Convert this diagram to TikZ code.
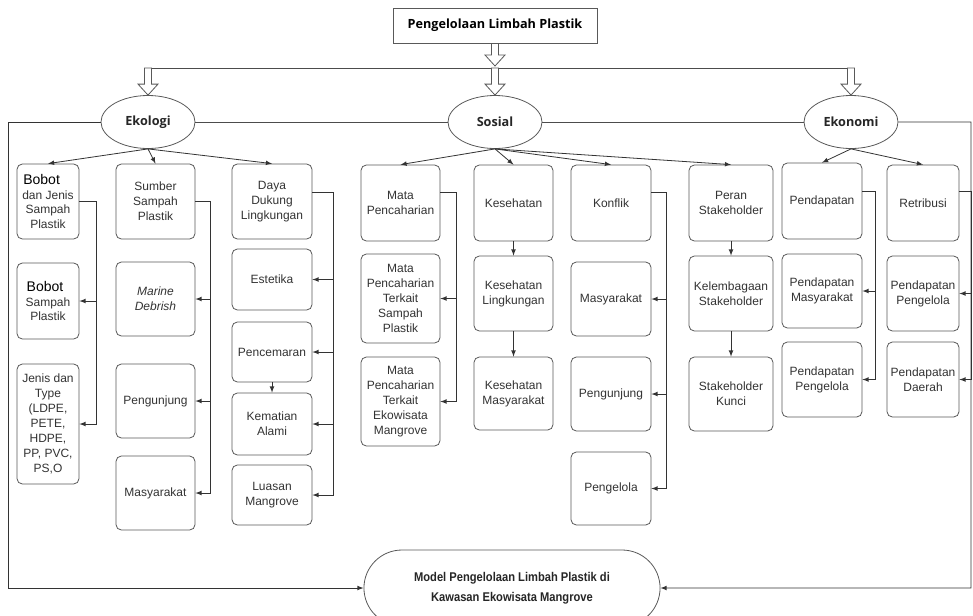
\documentclass[tikz,border=0pt]{standalone}
\usepackage{fontspec}
\setmainfont{Liberation Sans}
\newfontfamily\headfont{Open Sans}
\newfontfamily\narrowfont[FakeStretch=0.88]{Liberation Sans}
\usetikzlibrary{shapes,calc}
\newcommand{\hollow}[2]{\draw[black!65,fill=white] ($(#1)+(-3.5,0)$) -- ($(#2)+(-3.5,-11)$) -- ($(#2)+(-10,-11)$) -- (#2) -- ($(#2)+(10,-11)$) -- ($(#2)+(3.5,-11)$) -- ($(#1)+(3.5,0)$) -- cycle;}
\begin{document}
\begin{tikzpicture}[x=0.75pt,y=-0.75pt,>=latex,line width=0.6pt]
\tikzstyle{box}=[rectangle,rounded corners=4pt,draw=black!65,fill=white,align=center,text=black!80,font=\fontsize{9}{11.2}\selectfont,inner sep=1pt,minimum width=#1*0.75pt]
\tikzstyle{ht}=[minimum height=#1*0.75pt]
\tikzstyle{dim}=[ellipse,draw=black!65,fill=white,minimum width=70.5pt,minimum height=39.75pt,font=\headfont\bfseries\fontsize{9.5}{11}\selectfont,text=black!85]
\tikzstyle{link}=[->,draw=black!80]
\path[use as bounding box] (0,0) rectangle (973,615);
\clip (0,0) rectangle (973,615);
\node[draw=black!65,font=\headfont\bfseries\fontsize{9.5}{11}\selectfont,minimum width=153pt,minimum height=26.25pt] (T) at (495,25.5) {Pengelolaan Limbah Plastik};
\node[dim] (EK) at (148,122) {Ekologi};
\node[dim] (SO) at (495,122) {Sosial};
\node[dim] (EN) at (851,122) {Ekonomi};

\node[box=62,ht=75] (A1) at (48,201.5) {\makebox[37pt][l]{\fontsize{10.5}{12}\selectfont\color{black}Bobot}\\dan Jenis\\Sampah\\Plastik};
\node[box=62,ht=76] (A2) at (48,301) {\makebox[32pt][l]{\fontsize{10.5}{12}\selectfont\color{black}Bobot}\\Sampah\\Plastik};
\node[box=62,ht=120] (A3) at (48,424) {Jenis dan\\Type\\(LDPE,\\PETE,\\HDPE,\\PP, PVC,\\PS,O};
\node[box=79,ht=75] (B1) at (155.5,201.5) {Sumber\\Sampah\\Plastik};
\node[box=79,ht=74] (B2) at (155.5,299) {\textit{Marine}\\\textit{Debrish}};
\node[box=79,ht=74] (B3) at (155.5,401) {Pengunjung};
\node[box=79,ht=74] (B4) at (155.5,493) {Masyarakat};
\node[box=80,ht=75] (C1) at (272,201.5) {Daya\\Dukung\\Lingkungan};
\node[box=80,ht=61] (C2) at (272,279.5) {Estetika};
\node[box=80,ht=60] (C3) at (272,352) {Pencemaran};
\node[box=80,ht=62] (C4) at (272,424) {Kematian\\Alami};
\node[box=80,ht=60] (C5) at (272,495) {Luasan\\Mangrove};

\node[box=79,ht=76] (D1) at (400.5,203) {Mata\\Pencaharian};
\node[box=79,ht=89] (D2) at (400.5,298.5) {Mata\\Pencaharian\\Terkait\\Sampah\\Plastik};
\node[box=79,ht=89] (D3) at (400.5,401.5) {Mata\\Pencaharian\\Terkait\\Ekowisata\\Mangrove};
\node[box=79,ht=76] (E1) at (513.5,203) {Kesehatan};
\node[box=79,ht=75] (E2) at (513.5,293.5) {Kesehatan\\Lingkungan};
\node[box=79,ht=73] (E3) at (513.5,393.5) {Kesehatan\\Masyarakat};
\node[box=80,ht=76] (F1) at (611,203) {Konflik};
\node[box=80,ht=74] (F2) at (611,299) {Masyarakat};
\node[box=80,ht=74] (F3) at (611,394) {Pengunjung};
\node[box=80,ht=73] (F4) at (611,488.5) {Pengelola};
\node[box=84,ht=76] (G1) at (731,203) {Peran\\Stakeholder};
\node[box=84,ht=75] (G2) at (731,293.5) {Kelembagaan\\Stakeholder};
\node[box=84,ht=74] (G3) at (731,394) {Stakeholder\\Kunci};

\node[box=80,ht=76] (H1) at (822,201) {Pendapatan};
\node[box=80,ht=74] (H2) at (822,291) {Pendapatan\\Masyarakat};
\node[box=80,ht=75] (H3) at (822,379.5) {Pendapatan\\Pengelola};
\node[box=72,ht=76] (I1) at (923,203) {Retribusi};
\node[box=72,ht=75] (I2) at (923,293.5) {Pendapatan\\Pengelola};
\node[box=72,ht=75] (I3) at (923,379.5) {Pendapatan\\Daerah};

\node[rounded rectangle,draw=black!65,fill=white,minimum width=228.75pt,minimum height=57pt,align=center,text=black!85,font=\narrowfont\bfseries\fontsize{9.5}{15}\selectfont] (M) at (512,588) {Model Pengelolaan Limbah Plastik di\\Kawasan Ekowisata Mangrove};

\coordinate (j) at (495,68);
\coordinate (j0) at (495,66);
\coordinate (L) at (8,588);
\coordinate (R) at (971,588);

\draw[black!70] (EK |- j) -- (EN |- j);
\draw[black!70] (EK) -- (SO) -- (EN);
\draw[link] (EK) -| (L) -- (M);
\draw[link] (EN) -| (R) -- (M);
\hollow{T.south}{j0}
\hollow{j}{SO.north}
\hollow{EK |- j}{EK.north}
\hollow{EN |- j}{EN.north}

\draw[link] (EK.south) -- (A1.north);
\draw[link] (EK.south) -- (B1.north);
\draw[link] (EK.south) -- (C1.north);
\draw[link] (SO.south) -- (D1.north);
\draw[link] (SO.south) -- (E1.north);
\draw[link] (SO.south) -- (F1.north);
\draw[link] (SO.south) -- (G1.north);
\draw[link] (EN.south) -- (H1.north);
\draw[link] (EN.south) -- (I1.north);

\draw[link] (A1.east) -- ++(17,0) coordinate (a) |- (A3.east);
\draw[link] (a |- A2) -- (A2.east);
\draw[link] (B1.east) -- ++(15,0) coordinate (b) |- (B4.east);
\draw[link] (b |- B2) -- (B2.east);
\draw[link] (b |- B3) -- (B3.east);
\draw[link] (C1.13) -- ++(21,0) coordinate (c) |- (C5.east);
\draw[link] (c |- C2) -- (C2.east);
\draw[link] (c |- C3) -- (C3.east);
\draw[link] (c |- C4) -- (C4.east);
\draw[link] (C3) -- (C4);
\draw[link] (D1.15) -- ++(16,0) coordinate (d) |- (D3.east);
\draw[link] (d |- D2) -- (D2.east);
\draw[link] (E1) -- (E2);
\draw[link] (E2) -- (E3);
\draw[link] (F1.15) -- ++(15,0) coordinate (f) |- (F4.east);
\draw[link] (f |- F2) -- (F2.east);
\draw[link] (f |- F3) -- (F3.east);
\draw[link] (G1) -- (G2);
\draw[link] (G2) -- (G3);
\draw[link] (H1.13) -- ++(13,0) coordinate (h) |- (H3.east);
\draw[link] (h |- H2) -- (H2.east);
\draw[link] (I1.17) -- ++(12,0) coordinate (i) |- (I3.east);
\draw[link] (i |- I2) -- (I2.east);
\end{tikzpicture}
\end{document}
